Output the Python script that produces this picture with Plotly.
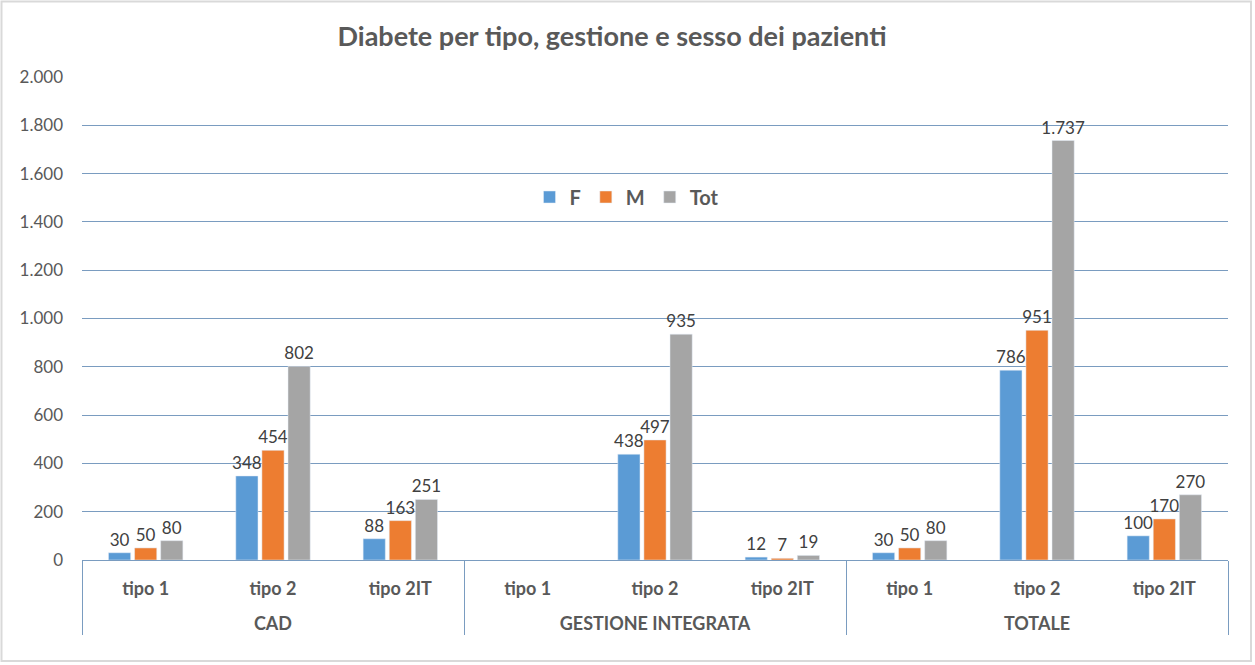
import plotly.graph_objects as go

groups = ["CAD", "CAD", "CAD",
          "GESTIONE INTEGRATA", "GESTIONE INTEGRATA", "GESTIONE INTEGRATA",
          "TOTALE", "TOTALE", "TOTALE"]
tipi = ["tipo 1", "tipo 2", "tipo 2IT"] * 3

f_vals = [30, 348, 88, None, 438, 12, 30, 786, 100]
m_vals = [50, 454, 163, None, 497, 7, 50, 951, 170]
tot_vals = [80, 802, 251, None, 935, 19, 80, 1737, 270]

series = [("F", f_vals, "#5B9BD5"), ("M", m_vals, "#ED7D31"), ("Tot", tot_vals, "#A5A5A5")]


def fmt(v):
    return "" if v is None else f"{v:,}".replace(",", ".")


# first-level labels get a blank second line so the group labels sit lower, as in the reference
tipi_disp = [t + "<br> " for t in tipi]

FONT = "Lato, Open Sans, sans-serif"
fig = go.Figure()
for name, vals, color in series:
    fig.add_trace(go.Bar(
        name=name, x=[groups, tipi_disp], y=vals, marker_color=color,
        text=[fmt(v) for v in vals], textposition="outside",
        textfont=dict(size=17, color="#404040", family=FONT),
        constraintext="none", cliponaxis=False,
    ))

W, H = 1255, 665
ml, mr, mt, mb = 82, 27, 77, 105
pw, ph = W - ml - mr, H - mt - mb


def px(x):
    return (x - ml) / pw


def py(y):
    return (H - mb - y) / ph


fig.update_layout(
    width=W, height=H,
    margin=dict(l=ml, r=mr, t=mt, b=mb, autoexpand=False),
    paper_bgcolor="white", plot_bgcolor="white",
    separators=",.",
    barmode="group", bargap=0.385, bargroupgap=0.15,
    font=dict(family=FONT, color="#595959"),
    title=dict(text="<b>Diabete per tipo, gestione e sesso dei pazienti</b>",
               x=612 / W, xanchor="center", y=1 - 37 / H, yanchor="middle",
               font=dict(size=27, color="#595959", family=FONT)),
    legend=dict(orientation="h", x=px(627), xanchor="center", y=py(197), yanchor="middle",
                font=dict(size=20, color="#595959", family=FONT, weight="bold"),
                itemwidth=30, bgcolor="rgba(0,0,0,0)", traceorder="normal"),
    showlegend=True,
    xaxis=dict(type="multicategory", showline=True, linecolor="#7A9CC0", linewidth=1,
               showdividers=True, dividercolor="#7A9CC0", dividerwidth=1,
               tickfont=dict(size=18, color="#595959", family=FONT, weight="bold"),
               ticks="", showgrid=False, ticklabelstandoff=12),
    yaxis=dict(range=[0, 2000], dtick=200, separatethousands=True,
               showgrid=True, gridcolor="#7A9CC0", gridwidth=1,
               tickfont=dict(size=17, color="#595959", family=FONT),
               zeroline=False, showline=False, ticklabelstandoff=18),
    shapes=[dict(type="rect", xref="paper", yref="paper",
                 x0=px(1.5), x1=px(1251), y0=py(661), y1=py(1.5),
                 line=dict(color="#D9D9D9", width=2), fillcolor="rgba(0,0,0,0)", layer="below")],
)

fig.write_html("out.html", config={"displayModeBar": False},
               post_script="document.body.style.margin='0';")
